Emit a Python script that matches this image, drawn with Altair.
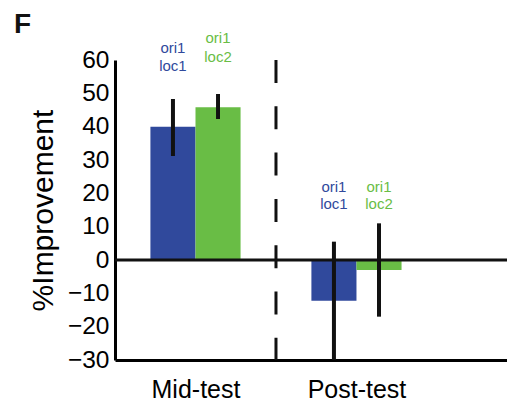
import altair as alt
import pandas as pd

phases = ["Mid-test", "Post-test"]
conditions = ["ori1 loc1", "ori1 loc2"]
colors = ["#30499c", "#69bd45"]

mean_loc1 = [40.0, -12.2]
mean_loc2 = [45.8, -3.0]
lo_loc1 = [31.2, -30.0]
hi_loc1 = [48.3, 5.5]
lo_loc2 = [42.3, -17.0]
hi_loc2 = [49.8, 11.0]

y_ticks = [-30, -20, -10, 0, 10, 20, 30, 40, 50, 60]

# annotation labels above each bar group (line, condition, phase, y-level)
ann_lines = ["ori1", "loc1", "ori1", "loc2", "ori1", "loc1", "ori1", "loc2"]
ann_cond = ["ori1 loc1", "ori1 loc1", "ori1 loc2", "ori1 loc2",
            "ori1 loc1", "ori1 loc1", "ori1 loc2", "ori1 loc2"]
ann_phase = [0, 0, 0, 0, 1, 1, 1, 1]
ann_y = [62.0, 56.6, 65.0, 59.5, 20.3, 15.2, 20.3, 15.2]

BW = 0.28
means = [mean_loc1, mean_loc2]
los = [lo_loc1, lo_loc2]
his = [hi_loc1, hi_loc2]
rows = []
for i, ph in enumerate(phases):
    for j, c in enumerate(conditions):
        x0 = i + 1 + (j - 1) * BW
        rows.append(dict(phase=ph, cond=c, x0=x0, x1=x0 + BW, xm=x0 + BW / 2,
                         mean=means[j][i], lo=los[j][i], hi=his[j][i]))
df = pd.DataFrame(rows)

ann = pd.DataFrame(dict(text=ann_lines, cond=ann_cond, y=ann_y,
                        x=[p + 1 + (conditions.index(c) - 0.5) * BW
                           for p, c in zip(ann_phase, ann_cond)]))

FONT = "Liberation Sans"
xs = alt.Scale(domain=[0.5, 2.935], nice=False, zero=False)
ys = alt.Scale(domain=[-30, 60], nice=False, zero=False)
cs = alt.Scale(domain=conditions, range=colors)

label_expr = "[" + ",".join("'" + p + "'" for p in phases) + "][datum.value - 1]"

x_axis = alt.Axis(values=[1, 2], labelExpr=label_expr, title=None,
                  ticks=False, tickSize=0, labelPadding=37,
                  labelBaseline="alphabetic", labelFontSize=25,
                  labelFont=FONT, labelColor="black", grid=False,
                  labelOverlap=False, domainWidth=3, domainColor="black")
y_axis = alt.Axis(values=y_ticks, title="%Improvement", ticks=False,
                  tickSize=0, labelPadding=6, labelFontSize=24.5,
                  labelFont=FONT, labelColor="black", grid=False,
                  labelOverlap=False, domainWidth=3, domainColor="black",
                  titleFont=FONT, titleFontSize=30,
                  titleFontWeight="normal", titleColor="black",
                  titleX=-63, titleY=150, titleAngle=270,
                  titleAlign="center", titleBaseline="alphabetic")

bars = alt.Chart(df).mark_bar().encode(
    x=alt.X("x0:Q", scale=xs, axis=x_axis, title=None),
    x2="x1:Q",
    y=alt.Y("mean:Q", scale=ys, axis=y_axis, title="%Improvement"),
    y2=alt.datum(0),
    color=alt.Color("cond:N", scale=cs, legend=None),
)

zero = alt.Chart(pd.DataFrame({"v": [0]})).mark_rule(
    color="#111111", strokeWidth=3).encode(
    y=alt.Y("v:Q", scale=ys, axis=y_axis, title="%Improvement"),
    x=alt.value(0), x2=alt.value(392))

divider = alt.Chart(pd.DataFrame({"x": [1.5], "top": [60], "bot": [-30]})).mark_rule(
    color="#111111", strokeWidth=3, strokeDash=[23, 23.3]).encode(
    x=alt.X("x:Q", scale=xs, axis=x_axis, title=None),
    y=alt.Y("top:Q", scale=ys, axis=y_axis, title="%Improvement"),
    y2="bot:Q")

errs = alt.Chart(df).mark_rule(color="#111111", strokeWidth=4).encode(
    x=alt.X("xm:Q", scale=xs, axis=x_axis, title=None),
    y=alt.Y("lo:Q", scale=ys, axis=y_axis, title="%Improvement"),
    y2="hi:Q")

labels = alt.Chart(ann).mark_text(font=FONT, fontSize=15, align="center",
                                  baseline="alphabetic").encode(
    x=alt.X("x:Q", scale=xs, axis=x_axis, title=None),
    y=alt.Y("y:Q", scale=ys, axis=y_axis, title="%Improvement"),
    text="text:N",
    color=alt.Color("cond:N", scale=cs, legend=None))

panel = alt.Chart(pd.DataFrame({"t": ["F"]})).mark_text(
    font=FONT, fontSize=28, fontWeight="bold", align="left",
    baseline="alphabetic", color="#111111").encode(
    text="t:N", x=alt.value(-101), y=alt.value(-27))

chart = alt.layer(bars, zero, divider, errs, labels, panel).properties(
    width=392, height=300,
    autosize=alt.AutoSizeParams(type="none"),
    padding={"left": 115, "top": 60, "right": 0, "bottom": 45},
).configure_view(stroke=None).configure_axis(labelOverlap=False)

chart.save("out.html", embed_options={"renderer": "svg", "actions": False})
